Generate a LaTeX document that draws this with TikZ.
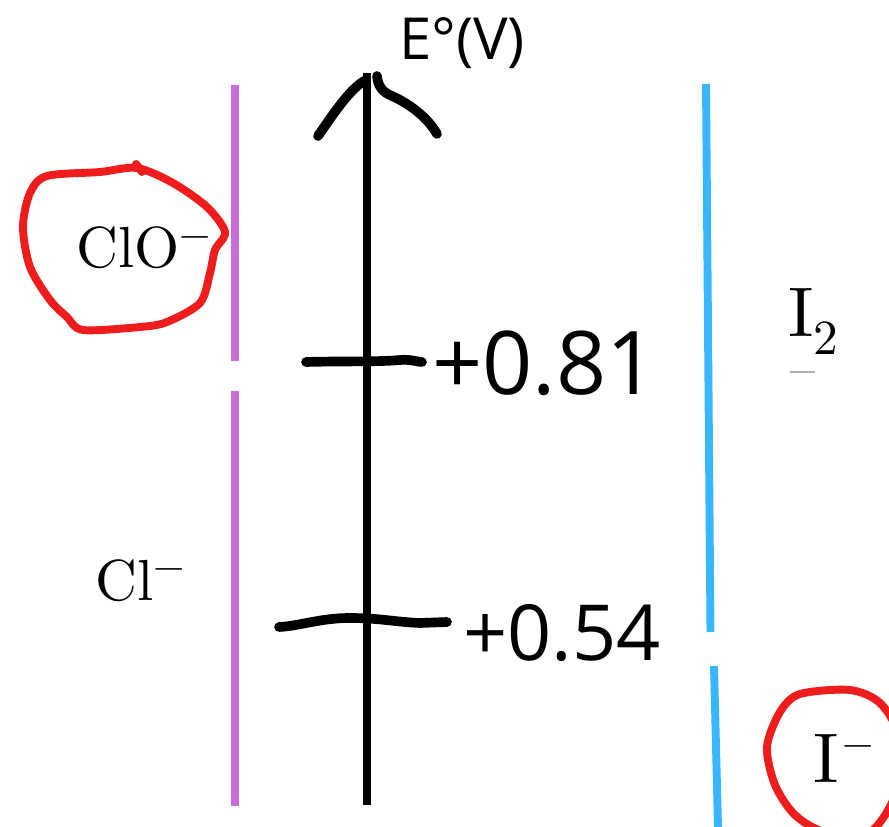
\documentclass[tikz,border=0pt]{standalone}
\usepackage{fontspec}
\newfontfamily\sansnum{Open Sans}
\newfontfamily\specfont{lmroman10-regular}[Extension=.otf]
\usetikzlibrary{positioning}
\definecolor{ink}{HTML}{000000}
\definecolor{orchid}{HTML}{C86DD7}
\definecolor{sky}{HTML}{38B6FF}
\definecolor{ring}{HTML}{EE1C1C}
\definecolor{smudge}{HTML}{B0B0B0}
\newcommand{\chg}[2]{\raisebox{#2}{\fontsize{#1}{#1}\selectfont −}}
\tikzset{
  axis/.style={draw=ink, line width=4.5pt},
  pen/.style={draw=ink, line width=5.5pt, line cap=round, line join=round},
  band/.style={line width=4.5pt},
  circ/.style={draw=ring, line width=4.5pt, line cap=round, line join=round},
  val/.style={font=\sansnum\fontsize{#1}{#1}\selectfont, inner sep=0pt, anchor=west},
  spec/.style={font=\specfont\fontsize{#1}{#1}\selectfont, inner sep=0pt, anchor=base west},
}
\begin{document}
\begin{tikzpicture}[x=0.02cm, y=-0.02cm]
  \useasboundingbox (0,0) rectangle (889,827);
  % potential axis
  \coordinate (axbot) at (367,805);
  \coordinate (axtop) at (367,73);
  \draw[axis] (axbot) -- (axtop);
  \draw[pen] (318,136) .. controls (332,116) and (350,88) .. (366,80);
  \draw[pen] (377,76) .. controls (378,86) and (382,92) .. (392,96) .. controls (410,104) and (428,118) .. (437,134);
  \node[val=33, anchor=center] (ev) at (462,43) {E°(V)};
  % ticks and values
  \draw[pen] (306,362) .. controls (340,361) and (380,362) .. (400,360) .. controls (410,359) and (418,362) .. (422,362);
  \draw[pen] (279,627) .. controls (300,626) and (320,618) .. (350,618) .. controls (380,618) and (395,622) .. (420,623) -- (447,622);
  \node[val=50] (v81) at (432,363) {+0.81};
  \node[val=44] (v54) at (463,633) {+0.54};
  % species bands
  \draw[band, orchid] (235,85) -- (235,361);
  \draw[band, orchid] (235,391) -- (235,806);
  \draw[band, sky] (706,84) -- (710.5,632);
  \draw[band, sky] (714,666) -- (718,827);
  \node[spec=33] (clo) at (76,268) {ClO\chg{23}{11.8pt}};
  \node[spec=33] (cl) at (95,600) {Cl\chg{23}{11.8pt}};
  \node[spec=40] (itwo) at (788,337) {I\textsubscript{2}};
  \node[spec=40] (iminus) at (813,782) {I\hspace{2pt}\chg{23}{14.8pt}};
  \draw[smudge, line width=1.7pt] (790,372) -- (815,372);
  % red rings
  \draw[circ] plot[smooth cycle] coordinates {(137,168) (173,183) (207,207) (225,232) (215,250) (210,273) (200,303) (167,322) (140,327) (83,330) (67,317) (50,300) (30,267) (23,227) (30,193) (47,176) (100,172)};
  \draw[circ] (136,164) -- (142,172);
  \begin{scope}
    \clip (0,0) rectangle (889,827);
    \draw[circ] plot[smooth cycle] coordinates {(850,690) (880,703) (898,735) (897,790) (870,832) (825,832) (795,815) (775,785) (767,747) (780,712) (800,694)};
  \end{scope}
\end{tikzpicture}
\end{document}
